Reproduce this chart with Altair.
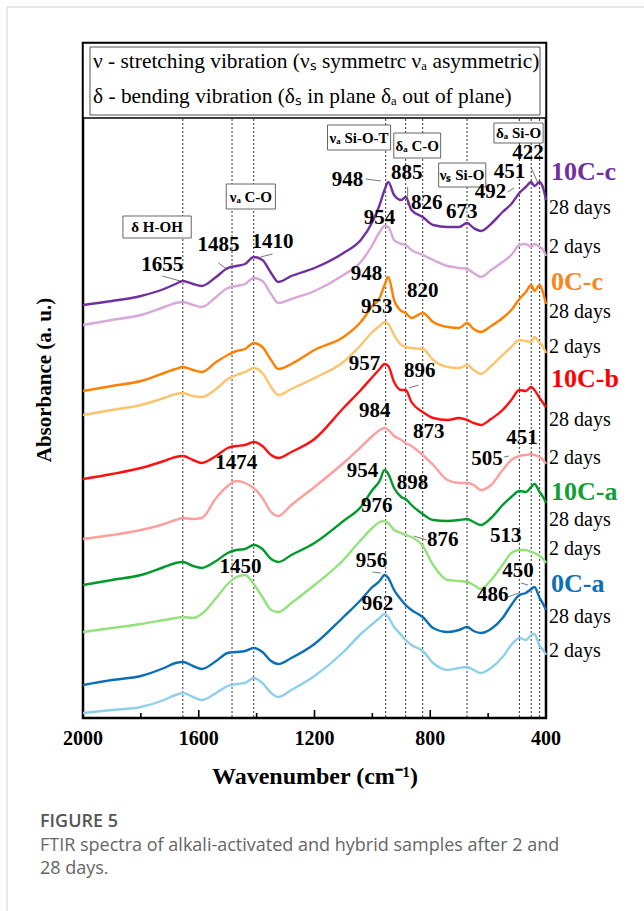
import altair as alt
import pandas as pd

# ---------------- data ----------------
WAVENUMBER = [2000, 1900, 1800, 1720, 1680, 1655, 1620, 1590, 1540, 1500, 1470, 1440, 1410, 1380,
              1350, 1325, 1280, 1200, 1100, 1040, 1000, 975, 958, 945, 925, 900, 885, 865, 826,
              790, 740, 700, 673, 650, 625, 590, 550, 520, 492, 470, 451, 440, 422, 410, 400]

# absorbance (arbitrary units, curves already offset as in the figure)
A_10Cc_28 = [413, 417, 422, 429, 434, 437, 434, 432, 441, 450, 452, 454, 461, 458, 445, 436, 442, 450,
             465, 478, 496, 513, 528, 536, 523, 518, 521, 508, 501, 493, 491, 491, 495, 490, 487, 494,
             506, 514, 525, 531, 536, 532, 536, 530, 518]
A_10Cc_2 = [393, 398, 403, 411, 415, 416, 413, 411, 421, 430, 432, 434, 440, 437, 424, 415, 419, 427,
            443, 456, 473, 486, 492, 491, 478, 474, 473, 468, 463, 458, 452, 450, 449, 445, 441, 448,
            456, 463, 473, 474, 471, 474, 471, 468, 462]
A_0Cc_28 = [327, 332, 337, 345, 349, 351, 348, 346, 356, 363, 367, 369, 375, 371, 358, 349, 354, 368,
            381, 396, 412, 420, 433, 441, 418, 407, 405, 400, 405, 396, 391, 390, 395, 389, 386, 392,
            400, 408, 419, 426, 433, 427, 433, 425, 414]
A_0Cc_2 = [303, 308, 313, 320, 324, 325, 322, 321, 329, 339, 343, 346, 350, 345, 331, 323, 329, 340,
           356, 373, 386, 392, 396, 394, 383, 373, 371, 370, 369, 358, 351, 350, 353, 348, 344, 352,
           363, 371, 378, 377, 376, 381, 375, 371, 365]
A_10Cb_28 = [239, 244, 250, 257, 261, 262, 258, 255, 262, 270, 272, 273, 276, 272, 263, 260, 266, 279,
             310, 328, 341, 349, 354, 352, 336, 328, 328, 316, 306, 300, 298, 300, 298, 295, 293, 299,
             308, 318, 328, 327, 331, 328, 320, 315, 311]
A_10Cb_2 = [179, 183, 188, 194, 198, 200, 199, 200, 220, 232, 237, 235, 230, 220, 206, 202, 213, 231,
            255, 271, 282, 288, 290, 288, 282, 278, 275, 272, 263, 253, 238, 235, 235, 233, 228, 233,
            248, 258, 262, 263, 264, 263, 261, 258, 254]
A_10Ca_28 = [133, 138, 143, 151, 155, 156, 152, 150, 157, 165, 168, 169, 173, 169, 159, 156, 163, 175,
             197, 211, 228, 237, 248, 244, 230, 221, 219, 213, 204, 198, 197, 198, 199, 196, 193, 200,
             213, 221, 227, 226, 231, 234, 226, 221, 215]
A_10Ca_2 = [86, 90, 94, 98, 100, 101, 100, 104, 120, 134, 141, 143, 134, 121, 108, 106, 115, 133,
            158, 178, 190, 196, 197, 195, 188, 185, 183, 181, 172, 153, 138, 137, 136, 133, 129, 138,
            153, 165, 168, 168, 166, 165, 162, 159, 155]
A_0Ca_28 = [33, 38, 42, 50, 55, 56, 52, 49, 57, 65, 66, 67, 70, 66, 57, 54, 60, 74,
            101, 118, 131, 137, 143, 140, 128, 118, 113, 108, 101, 90, 86, 88, 91, 87, 85, 89,
            100, 113, 123, 125, 129, 131, 120, 114, 108]
A_0Ca_2 = [5, 8, 11, 18, 23, 25, 21, 18, 25, 32, 34, 35, 40, 35, 25, 21, 28, 42,
           66, 84, 94, 100, 104, 101, 91, 83, 78, 73, 67, 55, 48, 50, 51, 48, 45, 50,
           61, 73, 80, 78, 83, 84, 72, 68, 63]

SERIES_NAMES = ["10C-c 28 days", "10C-c 2 days", "0C-c 28 days", "0C-c 2 days",
                "10C-b 28 days", "10C-b 2 days", "10C-a 28 days", "10C-a 2 days",
                "0C-a 28 days", "0C-a 2 days"]
SERIES_VALUES = [A_10Cc_28, A_10Cc_2, A_0Cc_28, A_0Cc_2, A_10Cb_28, A_10Cb_2,
                 A_10Ca_28, A_10Ca_2, A_0Ca_28, A_0Ca_2]
SERIES_COLORS = ["#7030A0", "#D7A8D9", "#FF8000", "#FFC36E", "#FF1010", "#FF9E9E",
                 "#009A2A", "#93E27B", "#0A6FB5", "#8ED0EC"]

# marked band positions (dotted lines)
BAND_W = [1655, 1485, 1410, 954, 885, 826, 673, 492, 451, 422]

# peak labels
PEAK_TEXT = ["1655", "1485", "1410", "948", "885", "826", "673", "492", "451", "422",
             "954", "948", "820", "953", "957", "896", "984", "873", "451", "505",
             "1474", "954", "898", "976", "876", "513", "1450", "956", "450", "962", "486"]
PEAK_W = [1726, 1532, 1345, 1086, 881, 812, 691, 592, 526, 462,
          975, 1020, 826, 985, 1027, 836, 992, 805, 483, 604,
          1470, 1034, 861, 985, 757, 539, 1456, 1003, 497, 982, 584]
PEAK_H = [453, 473, 476, 538, 545, 515, 506, 526, 546, 565,
          500, 444, 427, 411, 354, 347, 307, 286, 280, 259,
          255, 247, 235, 212, 178, 182, 151, 157, 147, 114, 123]

# leader lines
LEAD_W1 = [1726, 1532, 1387, 1023, 878, 532, 452, 840, 545, 857, 999, 487, 532]
LEAD_H1 = [442, 455, 461, 539, 531, 526, 551, 333, 261, 182, 146, 135, 121]
LEAD_W2 = [1664, 1498, 1345, 971, 878, 511, 428, 874, 528, 812, 971, 462, 494]
LEAD_H2 = [437, 448, 464, 537, 513, 530, 535, 330, 262, 178, 145, 133, 125]

# band assignment boxes
BOX_TEXT = ["\u03b4  H-OH", "\u03bd\u2090 C-O", "\u03bd\u2090 Si-O-T", "\u03b4\u2090 C-O",
            "\u03bd\u209b Si-O", "\u03b4\u2090 Si-O"]
BOX_W = [1744, 1420, 1046, 845, 690, 495]
BOX_H = [491, 521, 580, 572, 543, 585]
BOX_W1 = [1862, 1505, 1155, 926, 771, 580]
BOX_W2 = [1626, 1335, 937, 764, 608, 410]
BOX_H1 = [480, 509, 568, 560, 531, 575]
BOX_H2 = [502, 534, 593, 585, 555, 595]

# right-hand labels
SAMPLE_TEXT = ["10C-c", "0C-c", "10C-b", "10C-a", "0C-a"]
SAMPLE_H = [546, 436, 339, 226, 134]
SAMPLE_COLORS = ["#7030A0", "#F7861C", "#FF0000", "#12A035", "#0A70B8"]
AGE_TEXT = ["28 days", "2 days", "28 days", "2 days", "28 days", "2 days",
            "28 days", "2 days", "28 days", "2 days"]
AGE_H = [510, 471, 406, 371, 298, 260, 198, 169, 101, 67]

MAJOR_TICKS = [1600, 1200, 800]
MINOR_TICKS = [1800, 1400, 1000, 600]
TICK_LABELS = [2000, 1600, 1200, 800, 400]

LEGEND_LINES = ["\u03bd - stretching vibration (\u03bd\u209b symmetrc \u03bd\u2090 asymmetric)",
                "\u03b4 - bending vibration (\u03b4\u209b in plane \u03b4\u2090 out of plane)"]
CAPTION_TITLE = "FIGURE 5"
CAPTION_LINES = ["FTIR spectra of alkali-activated and hybrid samples after 2 and", "28 days."]

# ---------------- chart ----------------
W, H = 463, 675
SERIF = "Liberation Serif"
SANS = "Open Sans"

XS = alt.Scale(domain=[2000, 400], nice=False, zero=False)
YS = alt.Scale(domain=[0, 675], nice=False, zero=False)

rows = []
for name, vals in zip(SERIES_NAMES, SERIES_VALUES):
    for w, v in zip(WAVENUMBER, vals):
        rows.append({"series": name, "w": w, "a": v})
spectra = pd.DataFrame(rows)


def xw(field="w"):
    return alt.X(f"{field}:Q", scale=XS, axis=None)


def yh(field="h"):
    return alt.Y(f"{field}:Q", scale=YS, axis=None)


one = pd.DataFrame({"k": [0]})

bands = alt.Chart(pd.DataFrame({"w": BAND_W})).mark_rule(
    strokeDash=[2, 2], color="#333333", strokeWidth=1
).encode(x=xw(), y=alt.value(0), y2=alt.value(H))

curves = alt.Chart(spectra).mark_line(interpolate="monotone", strokeWidth=2.4).encode(
    x=xw(),
    y=yh("a"),
    color=alt.Color("series:N", scale=alt.Scale(domain=SERIES_NAMES, range=SERIES_COLORS), legend=None),
    detail="series:N",
)

legend_outer = alt.Chart(one).mark_rect(fill="white", stroke="black", strokeWidth=1.5).encode(
    x=alt.value(0), x2=alt.value(W), y=alt.value(0), y2=alt.value(75))
legend_inner = alt.Chart(one).mark_rect(fillOpacity=0, stroke="#555555", strokeWidth=1).encode(
    x=alt.value(7), x2=alt.value(457), y=alt.value(4), y2=alt.value(72))
legend_text = alt.Chart(pd.DataFrame({"t": LEGEND_LINES, "yy": [19, 54]})).mark_text(
    align="left", baseline="middle", font=SERIF, fontSize=21.4, color="black"
).encode(x=alt.value(10), y=alt.Y("yy:Q", scale=None, axis=None), text="t:N")

boxes_df = pd.DataFrame({"t": BOX_TEXT, "w": BOX_W, "h": BOX_H, "w1": BOX_W1, "w2": BOX_W2,
                         "h1": BOX_H1, "h2": BOX_H2})
box_rects = alt.Chart(boxes_df).mark_rect(fill="white", stroke="#666666", strokeWidth=1).encode(
    x=xw("w1"), x2="w2:Q", y=yh("h1"), y2="h2:Q")
box_text = alt.Chart(boxes_df).mark_text(
    font=SERIF, fontSize=15, fontWeight="bold", color="black", baseline="middle", align="center"
).encode(x=xw(), y=yh(), text="t:N")

leads = alt.Chart(pd.DataFrame({"w1": LEAD_W1, "h1": LEAD_H1, "w2": LEAD_W2, "h2": LEAD_H2})).mark_rule(
    color="#555555", strokeWidth=0.8
).encode(x=xw("w1"), x2="w2:Q", y=yh("h1"), y2="h2:Q")

peaks = alt.Chart(pd.DataFrame({"t": PEAK_TEXT, "w": PEAK_W, "h": PEAK_H})).mark_text(
    font=SERIF, fontSize=21, fontWeight="bold", color="black", baseline="middle", align="center"
).encode(x=xw(), y=yh(), text="t:N")

samples = alt.Chart(pd.DataFrame({"t": SAMPLE_TEXT, "h": SAMPLE_H, "w": [400] * 5})).mark_text(
    font=SERIF, fontSize=26, fontWeight="bold", baseline="middle", align="left", dx=5
).encode(x=xw(), y=yh(), text="t:N",
         color=alt.Color("t:N", scale=alt.Scale(domain=SAMPLE_TEXT, range=SAMPLE_COLORS), legend=None))

ages = alt.Chart(pd.DataFrame({"t": AGE_TEXT, "h": AGE_H, "w": [400] * 10})).mark_text(
    font=SERIF, fontSize=20, color="black", baseline="middle", align="left", dx=3
).encode(x=xw(), y=yh(), text="t:N")

major = alt.Chart(pd.DataFrame({"w": MAJOR_TICKS})).mark_rule(color="black", strokeWidth=1.6).encode(
    x=xw(), y=alt.value(H - 8), y2=alt.value(H))
minor = alt.Chart(pd.DataFrame({"w": MINOR_TICKS})).mark_rule(color="black", strokeWidth=1.6).encode(
    x=xw(), y=alt.value(H - 5), y2=alt.value(H))

tick_labels = alt.Chart(pd.DataFrame({"w": TICK_LABELS})).mark_text(
    font=SERIF, fontSize=20, fontWeight="bold", color="black", baseline="middle", align="center"
).encode(x=xw(), y=alt.value(H + 21), text=alt.Text("w:Q", format="d"))

x_title = alt.Chart(one).mark_text(
    font=SERIF, fontSize=24, fontWeight="bold", color="black", baseline="middle", align="center"
).encode(x=alt.value(232), y=alt.value(734), text=alt.value("Wavenumber (cm\u207b\u00b9)"))

y_title = alt.Chart(one).mark_text(
    font=SERIF, fontSize=21, fontWeight="bold", color="black", baseline="middle", align="center", angle=270
).encode(x=alt.value(-38), y=alt.value(337), text=alt.value("Absorbance (a. u.)"))

cap_title = alt.Chart(one).mark_text(
    font=SANS, fontSize=18, fontWeight=600, color="#555555", baseline="middle", align="left"
).encode(x=alt.value(-43), y=alt.value(779), text=alt.value(CAPTION_TITLE))
cap_text = alt.Chart(pd.DataFrame({"t": CAPTION_LINES, "yy": [803, 826]})).mark_text(
    font=SANS, fontSize=18, color="#666666", baseline="middle", align="left"
).encode(x=alt.value(-43), y=alt.Y("yy:Q", scale=None, axis=None), text="t:N")

border_v = alt.Chart(one).mark_rule(color="#d0d0d0", strokeWidth=1).encode(
    x=alt.value(-76), y=alt.value(-36), y2=alt.value(868))
border_h = alt.Chart(one).mark_rule(color="#d0d0d0", strokeWidth=1).encode(
    x=alt.value(-76), x2=alt.value(561), y=alt.value(-36))

chart = alt.layer(
    border_v, border_h, bands, curves, legend_outer, legend_inner, legend_text,
    box_rects, box_text, leads, peaks, samples, ages, major, minor, tick_labels,
    x_title, y_title, cap_title, cap_text
).resolve_scale(color="independent").properties(
    width=W, height=H,
    padding={"left": 83, "top": 43, "right": 98, "bottom": 193},
    autosize=alt.AutoSizeParams(type="none"),
    background="white",
).configure_view(stroke="black", strokeWidth=2.5)

chart.save("out.html", embed_options={"renderer": "svg", "actions": False})
